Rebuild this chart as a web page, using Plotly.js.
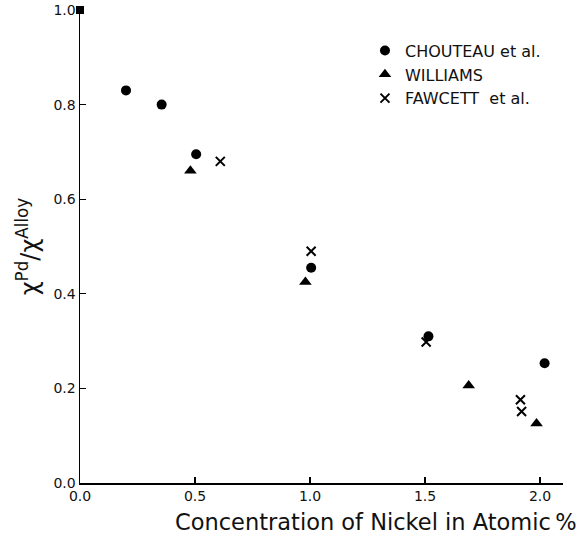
<!DOCTYPE html>
<html>
<head>
<meta charset="utf-8">
<script src="https://cdn.plot.ly/plotly-3.0.1.min.js"></script>
<style>html,body{margin:0;padding:0;background:#fff;}#chart{width:579px;height:535px;}</style>
</head>
<body>
<div id="chart"></div>
<script>
// Data
const chouteauX = [0.20, 0.355, 0.505, 1.005, 1.515, 2.02];
const chouteauY = [0.83, 0.80, 0.695, 0.455, 0.31, 0.253];
const williamsX = [0.48, 0.98, 1.69, 1.985];
const williamsY = [0.66, 0.425, 0.206, 0.126];
const fawcettX = [0.61, 1.005, 1.505, 1.915, 1.92];
const fawcettY = [0.68, 0.49, 0.298, 0.176, 0.151];
const pdX = [0.0];
const pdY = [1.0];
const seriesNames = ["CHOUTEAU et al.", "WILLIAMS", "FAWCETT\u00a0\u00a0et al."];
const xTicks = [0.0, 0.5, 1.0, 1.5, 2.0];
const xTickText = ["0.0", "0.5", "1.0", "1.5", "2.0"];
const yTicks = [0.0, 0.2, 0.4, 0.6, 0.8, 1.0];
const yTickText = ["0.0", "0.2", "0.4", "0.6", "0.8", "1.0"];
const xTitle = "Concentration of Nickel in Atomic\u2009%";
const yTitle = "\u03c7<sup>Pd</sup>/\u03c7<sup>Alloy</sup>";

const FONT = "'DejaVu Sans', sans-serif";

const traces = [
  {x: chouteauX, y: chouteauY, name: seriesNames[0], mode: "markers", type: "scatter",
   marker: {symbol: "circle", size: 10, color: "#000"}, cliponaxis: false},
  {x: williamsX, y: williamsY, name: seriesNames[1], mode: "markers", type: "scatter",
   marker: {symbol: "triangle-up", size: 11, color: "#000"}, cliponaxis: false},
  {x: fawcettX, y: fawcettY, name: seriesNames[2], mode: "markers", type: "scatter",
   marker: {symbol: "x-thin", size: 9, color: "#000", line: {width: 2, color: "#000"}}, cliponaxis: false},
  {x: pdX, y: pdY, name: "Pd", mode: "markers", type: "scatter", showlegend: false,
   marker: {symbol: "square", size: 8, color: "#000"}, cliponaxis: false}
];

const layout = {
  width: 579, height: 535,
  margin: {l: 80, r: 16, t: 10, b: 52},
  paper_bgcolor: "#fff", plot_bgcolor: "#fff",
  font: {family: FONT, color: "#111", size: 14},
  showlegend: true,
  legend: {x: 0.59, y: 0.95, xanchor: "left", yanchor: "top",
           font: {family: FONT, size: 16, color: "#111"}, bgcolor: "rgba(0,0,0,0)",
           tracegroupgap: 0, itemwidth: 30},
  xaxis: {range: [0, 2.1], tickvals: xTicks, ticktext: xTickText,
          ticks: "inside", ticklen: 6, tickwidth: 1.2, tickcolor: "#000",
          showline: true, linecolor: "#000", linewidth: 1.5, showgrid: false, zeroline: false,
          tickfont: {family: FONT, size: 14, color: "#111"}},
  yaxis: {range: [0, 1.0], tickvals: yTicks, ticktext: yTickText,
          ticks: "inside", ticklen: 6, tickwidth: 1.2, tickcolor: "#000",
          showline: true, linecolor: "#000", linewidth: 1.5, showgrid: false, zeroline: false,
          tickfont: {family: FONT, size: 14, color: "#111"},
          title: {text: yTitle, font: {family: FONT, size: 24, color: "#111"}, standoff: 8}},
  annotations: [
    {text: xTitle, xref: "paper", yref: "paper", x: 0.613, y: -0.0825,
     xanchor: "center", yanchor: "middle", showarrow: false,
     font: {family: FONT, size: 22.5, color: "#111"}}
  ]
};

Plotly.newPlot("chart", traces, layout, {displayModeBar: false, staticPlot: true});
</script>
</body>
</html>
